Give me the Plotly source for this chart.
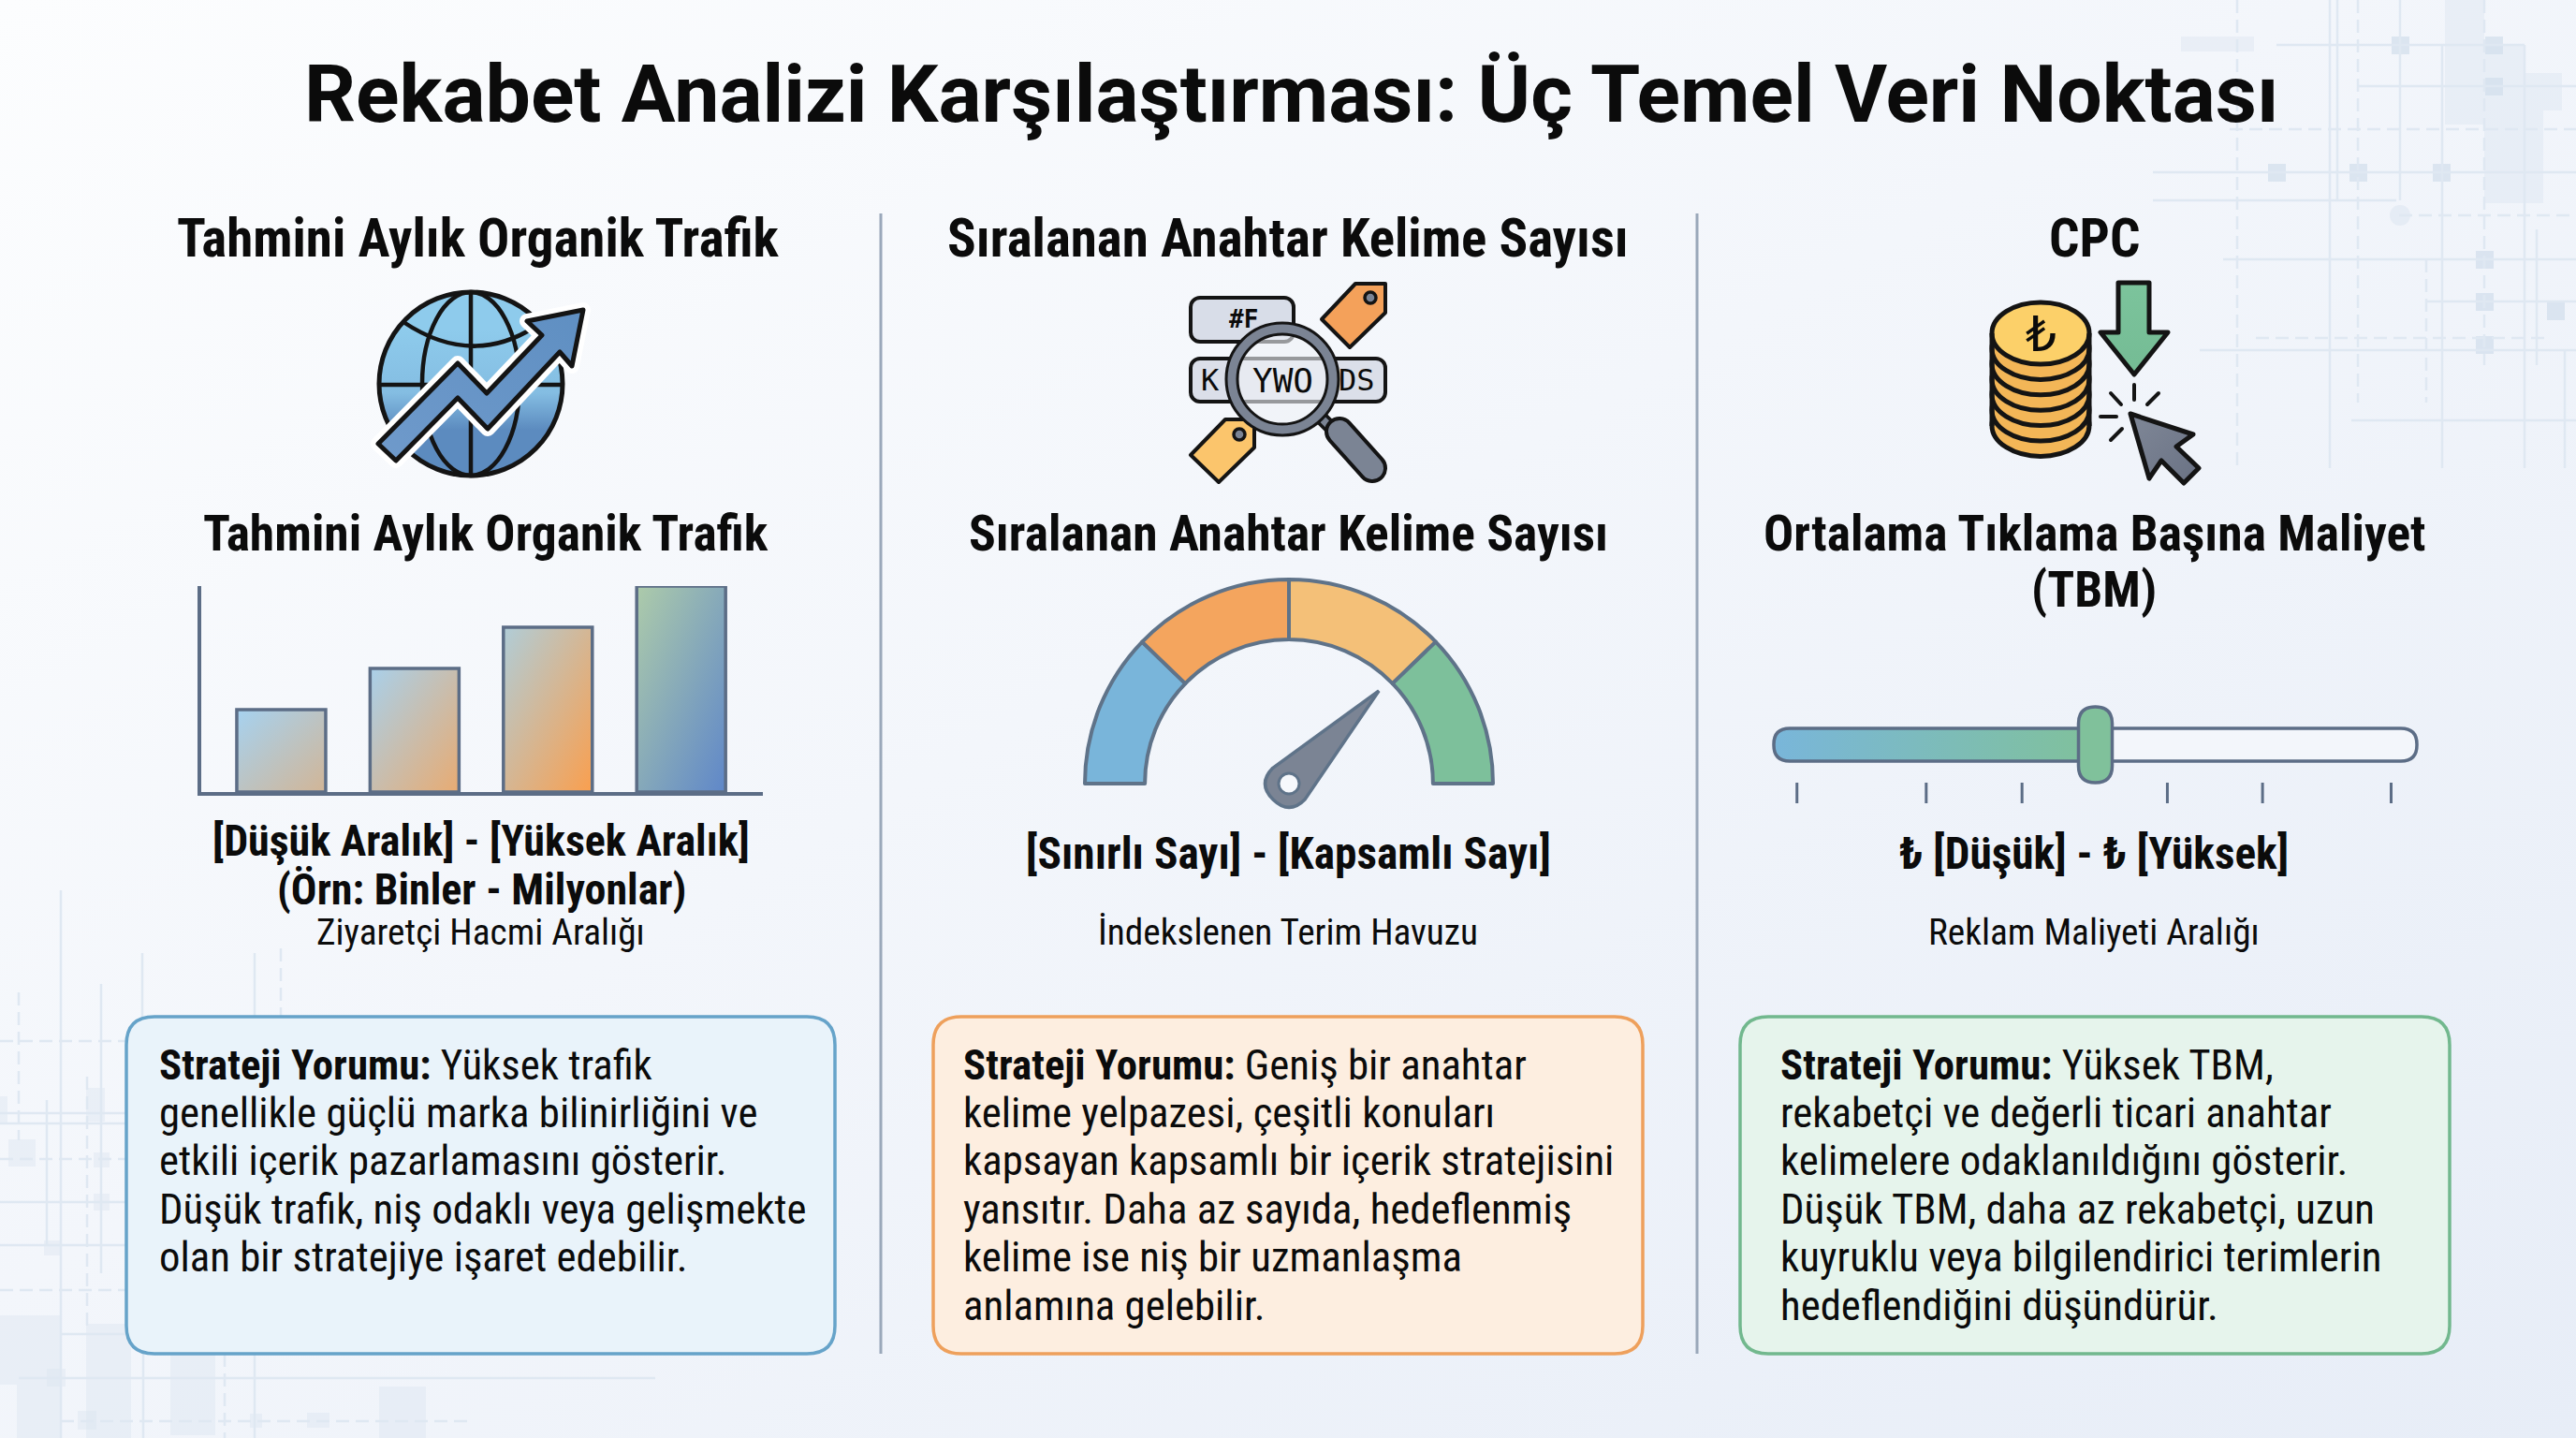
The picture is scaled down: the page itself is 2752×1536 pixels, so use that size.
import base64
import math
import plotly.graph_objects as go

W, H = 2752, 1536

# values
bar_categories = ['1', '2', '3', '4']
bar_values = [1.0, 1.5, 2.0, 2.5]
bar_grads = [('#a6d2f0', '#d2b596'), ('#a9d0ea', '#e8ab72'), ('#b0cdd8', '#fa9f4e'), ('#adcbaa', '#5f87c9')]

gauge_labels = ['Sınırlı', 'Orta', 'Geniş', 'Kapsamlı']
gauge_values = [44, 46, 46, 44]
gauge_colors = ['#79b5da', '#f4a55e', '#f4c078', '#7dc09b']
gauge_needle = 0.745

slider_value = 0.5
slider_ticks = [0.036, 0.237, 0.386, 0.612, 0.76, 0.96]

title = 'Rekabet Analizi Karşılaştırması: Üç Temel Veri Noktası'
heads_top = ['Tahmini Aylık Organik Trafik', 'Sıralanan Anahtar Kelime Sayısı', 'CPC']
heads_mid = ['Tahmini Aylık Organik Trafik', 'Sıralanan Anahtar Kelime Sayısı',
             'Ortalama Tıklama Başına Maliyet', '(TBM)']
ranges = ['[Düşük Aralık] - [Yüksek Aralık]', '(Örn: Binler - Milyonlar)',
          '[Sınırlı Sayı] - [Kapsamlı Sayı]', '₺ [Düşük] - ₺ [Yüksek]']
subs = ['Ziyaretçi Hacmi Aralığı', 'İndekslenen Terim Havuzu', 'Reklam Maliyeti Aralığı']
comments = [
    ['Yüksek trafik', 'genellikle güçlü marka bilinirliğini ve', 'etkili içerik pazarlamasını gösterir.',
     'Düşük trafik, niş odaklı veya gelişmekte', 'olan bir stratejiye işaret edebilir.'],
    ['Geniş bir anahtar', 'kelime yelpazesi, çeşitli konuları', 'kapsayan kapsamlı bir içerik stratejisini',
     'yansıtır. Daha az sayıda, hedeflenmiş', 'kelime ise niş bir uzmanlaşma', 'anlamına gelebilir.'],
    ['Yüksek TBM,', 'rekabetçi ve değerli ticari anahtar', 'kelimelere odaklanıldığını gösterir.',
     'Düşük TBM, daha az rekabetçi, uzun', 'kuyruklu veya bilgilendirici terimlerin', 'hedeflendiğini düşündürür.'],
]

NARROW = 'Roboto Condensed, Liberation Sans Narrow, Roboto, sans-serif'
INK = '#0b0b0b'
SLATE = '#5c6d86'


def uri(svg):
    return 'data:image/svg+xml;base64,' + base64.b64encode(svg.encode('utf-8')).decode()


def rrect(x0, y0, x1, y1, r):
    return (f'M{x0+r},{y0} L{x1-r},{y0} Q{x1},{y0} {x1},{y0+r} L{x1},{y1-r} Q{x1},{y1} {x1-r},{y1} '
            f'L{x0+r},{y1} Q{x0},{y1} {x0},{y1-r} L{x0},{y0+r} Q{x0},{y0} {x0+r},{y0} Z')


def dom_x(a, b):
    return [a / W, b / W]


def dom_y(top, bottom):
    return [1 - bottom / H, 1 - top / H]


# faint circuit pattern behind everything
deco_h = [(48, 2432, 2697), (92, 2519, 2752), (138, 2382, 2752), (184, 2300, 2752), (214, 2300, 2560),
          (230, 2563, 2752), (277, 2375, 2752), (322, 2592, 2752), (361, 2410, 2720), (374, 2350, 2752),
          (449, 2512, 2752), (1112, 0, 135), (1189, 0, 135), (1200, 0, 135), (1238, 0, 135), (1284, 0, 135),
          (1330, 0, 135), (1378, 0, 135), (1425, 65, 135), (1472, 20, 700), (1518, 65, 500)]
deco_v = [(2390, 0, 500), (2489, 0, 500), (2497, 0, 214), (2519, 0, 430), (2564, 0, 214), (2609, 48, 500),
          (2654, 0, 390), (2697, 48, 500), (2710, 245, 390), (2592, 277, 430), (2740, 375, 500),
          (65, 951, 1536), (20, 1060, 1218), (152, 1018, 1086), (272, 1018, 1086), (300, 1013, 1086),
          (108, 1051, 1360), (50, 1175, 1330), (93, 1150, 1420), (153, 1446, 1536), (272, 1446, 1536),
          (240, 1446, 1536)]
deco_r = [(2612, 0, 42, 133), (2654, 48, 43, 169), (2697, 78, 20, 139), (2717, 78, 20, 40),
          (2330, 39, 78, 16), (0, 1171, 8, 29), (9, 1217, 29, 29), (92, 1162, 20, 36), (100, 1231, 17, 16),
          (100, 1275, 17, 18), (47, 1325, 18, 16), (0, 1405, 18, 74), (18, 1405, 47, 131), (92, 1414, 48, 122),
          (182, 1447, 48, 86), (50, 1462, 20, 19), (83, 1507, 20, 20), (267, 1510, 13, 15), (328, 1509, 24, 16),
          (405, 1481, 50, 55)]
deco_s = [(2564, 48), (2664, 48), (2664, 92), (2432, 184), (2519, 184), (2608, 184), (2654, 277), (2654, 322),
          (2730, 332), (2654, 368)]

bg = f'<svg xmlns="http://www.w3.org/2000/svg" viewBox="0 0 {W} {H}" preserveAspectRatio="none">'
bg += ('<defs><linearGradient id="b" x1="0" y1="0" x2="1" y2="1"><stop offset="0" stop-color="#fcfdfe"/>'
       '<stop offset="0.45" stop-color="#f3f6fb"/><stop offset="1" stop-color="#e7edf7"/></linearGradient></defs>')
bg += f'<rect width="{W}" height="{H}" fill="url(#b)"/>'
for x, y, w, h in deco_r:
    bg += f'<rect x="{x}" y="{y}" width="{w}" height="{h}" fill="#d9e3ef" opacity="0.4"/>'
for x, y in deco_s:
    bg += f'<rect x="{x-9}" y="{y-9}" width="19" height="19" fill="#d3dfec" opacity="0.75"/>'
bg += '<circle cx="2564" cy="230" r="11" fill="#d9e3ef" opacity="0.5"/>'
for i, (y, a, b) in enumerate(deco_h):
    dash = ' stroke-dasharray="14 7"' if i % 3 == 2 else ''
    bg += f'<line x1="{a}" x2="{b}" y1="{y}" y2="{y}" stroke="#dfe8f2" stroke-width="2.5"{dash}/>'
for i, (x, a, b) in enumerate(deco_v):
    dash = ' stroke-dasharray="14 7"' if i % 3 == 0 else ''
    bg += f'<line x1="{x}" x2="{x}" y1="{a}" y2="{b}" stroke="#dfe8f2" stroke-width="2.5"{dash}/>'
bg += '</svg>'

# slider geometry
sx0, sx1, sy0, sy1 = 1895, 2582, 778, 813
handle_x = sx0 + slider_value * (sx1 - sx0)

# icons, with the slider gradient
DK = '#141414'
art = f'<svg xmlns="http://www.w3.org/2000/svg" viewBox="0 0 {W} {H}" preserveAspectRatio="none"><defs>'
art += ('<linearGradient id="gl" x1="0" y1="0" x2="0" y2="1"><stop offset="0.2" stop-color="#8ecbec"/>'
        '<stop offset="0.55" stop-color="#84bde2"/><stop offset="0.75" stop-color="#5c8bbf"/></linearGradient>'
        '<linearGradient id="ar" x1="0" y1="1" x2="1" y2="0"><stop offset="0" stop-color="#6f9acb"/>'
        '<stop offset="1" stop-color="#5f8fc2"/></linearGradient>'
        '<linearGradient id="sl" x1="0" y1="0" x2="1" y2="0"><stop offset="0" stop-color="#79b6da"/>'
        '<stop offset="1" stop-color="#80c19b"/></linearGradient>'
        '<linearGradient id="cu" x1="0" y1="0" x2="1" y2="1"><stop offset="0" stop-color="#7f8797"/>'
        '<stop offset="1" stop-color="#6a7284"/></linearGradient>'
        '<linearGradient id="gr" x1="0" y1="0" x2="0" y2="1"><stop offset="0" stop-color="#7cc49c"/>'
        '<stop offset="1" stop-color="#74bb94"/></linearGradient>')
art += '</defs>'
# slider fill
art += f'<path d="{rrect(sx0, sy0, handle_x, sy1, 17)}" fill="url(#sl)"/>'
# globe
art += f'<circle cx="503" cy="410" r="98" fill="url(#gl)" stroke="{DK}" stroke-width="5"/>'
art += f'<ellipse cx="503" cy="410" rx="52" ry="98" fill="none" stroke="{DK}" stroke-width="4.5"/>'
art += f'<line x1="503" x2="503" y1="312" y2="508" stroke="{DK}" stroke-width="4.5"/>'
art += f'<line x1="405" x2="601" y1="411" y2="411" stroke="{DK}" stroke-width="4.5"/>'
art += f'<path d="M431,344 Q503,392 570,350" fill="none" stroke="{DK}" stroke-width="4.5"/>'
arrow = '423,492 404,474 489,388 520,420 579,358 563,343 623,331 611,391 598,376 521,458 489,425'
art += f'<polygon points="{arrow}" fill="#fff" stroke="#fff" stroke-width="16" stroke-linejoin="round"/>'
art += f'<polygon points="{arrow}" fill="url(#ar)" stroke="{DK}" stroke-width="5" stroke-linejoin="round"/>'
# keyword icon
art += f'<rect x="1272" y="318" width="110" height="47" rx="10" fill="#d8dde8" stroke="{DK}" stroke-width="4"/>'
art += f'<rect x="1272" y="383" width="208" height="46" rx="10" fill="#dbdfe9" stroke="{DK}" stroke-width="4"/>'
art += (f'<polygon points="1448,303 1480,303 1480,334 1442,371 1412,341" fill="#f4a15a" '
        f'stroke="{DK}" stroke-width="4" stroke-linejoin="round"/>')
art += f'<circle cx="1464" cy="318" r="6" fill="#7b8494" stroke="{DK}" stroke-width="3.5"/>'
art += (f'<polygon points="1309,448 1340,448 1340,478 1302,515 1272,486" fill="#fbc56c" '
        f'stroke="{DK}" stroke-width="4" stroke-linejoin="round"/>')
art += f'<circle cx="1324" cy="464" r="6" fill="#7b8494" stroke="{DK}" stroke-width="3.5"/>'
art += f'<circle cx="1370" cy="405" r="47" fill="#eef1f7" fill-opacity="0.6"/>'
art += f'<line x1="1411" x2="1432" y1="446" y2="467" stroke="{DK}" stroke-width="15"/>'
art += f'<line x1="1411" x2="1432" y1="446" y2="467" stroke="#7b8494" stroke-width="8"/>'
art += f'<line x1="1431" x2="1466" y1="461" y2="500" stroke="{DK}" stroke-width="32" stroke-linecap="round"/>'
art += f'<line x1="1431" x2="1466" y1="461" y2="500" stroke="#7b8494" stroke-width="24" stroke-linecap="round"/>'
art += f'<circle cx="1370" cy="405" r="54" fill="none" stroke="{DK}" stroke-width="15"/>'
art += f'<circle cx="1370" cy="405" r="54" fill="none" stroke="#7b8494" stroke-width="9"/>'
# coins
for i in range(6, -1, -1):
    cy = 356 + i * 16.4
    art += f'<ellipse cx="2180" cy="{cy}" rx="52" ry="33" fill="{"#fcd069" if i == 0 else "#f3b657"}" stroke="{DK}" stroke-width="5"/>'
art += f'<line x1="2128" x2="2128" y1="356" y2="455" stroke="{DK}" stroke-width="5"/>'
art += f'<line x1="2232" x2="2232" y1="356" y2="455" stroke="{DK}" stroke-width="5"/>'
# down arrow, rays, cursor
art += (f'<polygon points="2263,302 2296,302 2296,355 2316,355 2280,400 2244,355 2263,355" fill="url(#gr)" '
        f'stroke="{DK}" stroke-width="5" stroke-linejoin="round"/>')
for x1, y1, x2, y2 in [(2280, 411, 2280, 427), (2306, 420, 2294, 432), (2255, 420, 2266, 432),
                       (2244, 445, 2261, 445), (2267, 458, 2255, 470)]:
    art += f'<line x1="{x1}" y1="{y1}" x2="{x2}" y2="{y2}" stroke="{DK}" stroke-width="4" stroke-linecap="round"/>'
art += (f'<polygon points="2276,442 2343,464 2325,477 2349,500 2333,516 2309,492 2296,511" fill="url(#cu)" '
        f'stroke="{DK}" stroke-width="5" stroke-linejoin="round"/>')
art += '</svg>'

fig = go.Figure()

# bar panel, on its own axes
fig.add_trace(go.Bar(
    x=list(range(len(bar_categories))), y=bar_values, width=0.667,
    marker=dict(color='rgba(0,0,0,0)', line=dict(color=SLATE, width=3.5)),
    xaxis='x2', yaxis='y2', showlegend=False, hoverinfo='skip'))

# gauge arc, the last slice is the hidden lower half
fig.add_trace(go.Pie(
    labels=gauge_labels + [''], values=gauge_values + [sum(gauge_values)],
    hole=0.706, sort=False, direction='clockwise', rotation=270,
    domain=dict(x=dom_x(1377 - 218, 1377 + 218), y=dom_y(837 - 218, 837 + 218)),
    marker=dict(colors=gauge_colors + ['rgba(0,0,0,0)'],
                line=dict(color=['#5f7389'] * 4 + ['rgba(0,0,0,0)'], width=[4, 4, 4, 4, 0])),
    textinfo='none', hoverinfo='skip', showlegend=False))

images = [
    dict(source=uri(bg), xref='paper', yref='paper', x=0, y=1, sizex=1, sizey=1,
         xanchor='left', yanchor='top', sizing='stretch', layer='below'),
    dict(source=uri(art), xref='paper', yref='paper', x=0, y=1, sizex=1, sizey=1,
         xanchor='left', yanchor='top', sizing='stretch', layer='above'),
]
# gradient fills sit under the bar outlines, sized by the bar values
for i, v in enumerate(bar_values):
    c1, c2 = bar_grads[i]
    svg = ('<svg xmlns="http://www.w3.org/2000/svg" viewBox="0 0 10 10" preserveAspectRatio="none"><defs>'
           f'<linearGradient id="g" x1="0" y1="0" x2="1" y2="1"><stop offset="0" stop-color="{c1}"/>'
           f'<stop offset="1" stop-color="{c2}"/></linearGradient></defs>'
           '<rect width="10" height="10" fill="url(#g)"/></svg>')
    images.append(dict(source=uri(svg), xref='x2', yref='y2', x=i - 0.333, y=v, sizex=0.667, sizey=v,
                       xanchor='left', yanchor='top', sizing='stretch', layer='below'))

shapes = []


def path_shape(d, line_color=None, width=0, fill='rgba(0,0,0,0)', layer='above'):
    shapes.append(dict(type='path', path=d, xref='x', yref='y', fillcolor=fill, layer=layer,
                       line=dict(color=line_color or 'rgba(0,0,0,0)', width=width)))


# column dividers
for x in [941, 1813]:
    shapes.append(dict(type='line', xref='x', yref='y', x0=x, x1=x, y0=228, y1=1446,
                       line=dict(color='#9aa8ba', width=3)))

# comment boxes
box_x = [(135, 892), (997, 1755), (1859, 2617)]
box_line = ['#66a3c9', '#eea05c', '#72b88e']
box_fill = ['#e9f3fa', '#fdeee0', '#e6f4ec']
for (a, b), lc, fc in zip(box_x, box_line, box_fill):
    path_shape(rrect(a, 1086, b, 1446, 30), lc, 3.5, fc)

# slider
path_shape(rrect(sx0, sy0, sx1, sy1, 17), fill='#f3f6fb', layer='below')
path_shape(rrect(sx0, sy0, sx1, sy1, 17), SLATE, 3.5)
path_shape(rrect(handle_x - 18, 755, handle_x + 18, 836, 18), SLATE, 3.5, '#80c19b')
for t in slider_ticks:
    tx = sx0 + t * (sx1 - sx0)
    shapes.append(dict(type='line', xref='x', yref='y', x0=tx, x1=tx, y0=836, y1=858,
                       line=dict(color=SLATE, width=3)))

# gauge needle
cx, cy = 1377, 837
a = math.pi * (1 - gauge_needle)
tip = (cx + 138 * math.cos(a), cy - 138 * math.sin(a))
px, py = -math.sin(a), -math.cos(a)
needle = (f'M{cx + 24 * px},{cy + 24 * py} L{tip[0]},{tip[1]} L{cx - 24 * px},{cy - 24 * py} '
          f'Q{cx - 24 * px - 24 * math.cos(a)},{cy - 24 * py + 24 * math.sin(a)} '
          f'{cx - 24 * math.cos(a)},{cy + 24 * math.sin(a)} '
          f'Q{cx + 24 * px - 24 * math.cos(a)},{cy + 24 * py + 24 * math.sin(a)} {cx + 24 * px},{cy + 24 * py} Z')
path_shape(needle, '#5f7389', 3.5, '#7b8494')
shapes.append(dict(type='circle', xref='x', yref='y', x0=cx - 11, x1=cx + 11, y0=cy - 11, y1=cy + 11,
                   fillcolor='#f6f8fc', line=dict(color='#5f7389', width=3)))

ann = []


def text(x, y, s, size, bold=False, family=NARROW, color=INK, anchor='center', align='center'):
    ann.append(dict(x=x, y=y, xref='x', yref='y', text=s, showarrow=False, xanchor=anchor, yanchor='middle',
                    align=align, font=dict(family=family, size=size, color=color, weight=700 if bold else 400)))


text(1379, 100, title, 86, True, family='Roboto, sans-serif')
col_x = [511, 1376, 2237]
for i, x in enumerate(col_x):
    text(x, 254, heads_top[i], 57, True)
text(519, 569, heads_mid[0], 53.5, True)
text(1376, 569, heads_mid[1], 53.5, True)
text(2237, 569, heads_mid[2], 53.5, True)
text(2237, 629, heads_mid[3], 53.5, True)
text(514, 898, ranges[0], 46, True)
text(514, 950, ranges[1], 46, True)
text(1376, 912, ranges[2], 47.3, True)
text(2237, 912, ranges[3], 47.3, True)
text(513, 996, subs[0], 39.3)
text(1376, 996, subs[1], 39.3)
text(2237, 996, subs[2], 39.3)

text_x = [168, 1027, 1900]
for i, x in enumerate(text_x):
    for j, line in enumerate(comments[i]):
        s = '<b>Strateji Yorumu:</b> ' + line if j == 0 else line
        text(x, 1137 + j * 51.4, s, 44.8, anchor='left', align='left')

# labels inside the icons
text(1328, 341, '#F', 26, True, family='DejaVu Sans Mono')
text(1293, 406, 'K', 32, family='DejaVu Sans Mono')
text(1370, 406, 'YWO', 36, family='DejaVu Sans Mono')
text(1449, 406, 'DS', 32, family='DejaVu Sans Mono')
text(2180, 357, '₺', 52, family='DejaVu Sans')

fig.update_layout(
    width=W, height=H, margin=dict(l=0, r=0, t=0, b=0),
    paper_bgcolor='#f3f6fb', plot_bgcolor='rgba(0,0,0,0)',
    images=images, shapes=shapes, annotations=ann, showlegend=False,
    xaxis=dict(range=[0, W], domain=[0, 1], visible=False, fixedrange=True),
    yaxis=dict(range=[H, 0], domain=[0, 1], visible=False, fixedrange=True),
    xaxis2=dict(range=[-0.6, 3.613], domain=dom_x(215, 815), anchor='y2', showticklabels=False,
                ticks='', showgrid=False, zeroline=False, showline=True, linecolor=SLATE, linewidth=3.5),
    yaxis2=dict(range=[0, 2.5], domain=dom_y(626, 846), anchor='x2', showticklabels=False,
                ticks='', showgrid=False, zeroline=False, showline=True, linecolor=SLATE, linewidth=3.5),
)
# keep the main pixel axes alive
fig.add_trace(go.Scatter(x=[0, W], y=[0, H], mode='none', showlegend=False, hoverinfo='skip', xaxis='x', yaxis='y'))

fig.write_html('out.html', config=dict(displayModeBar=False),
               post_script="document.body.style.margin='0';")
